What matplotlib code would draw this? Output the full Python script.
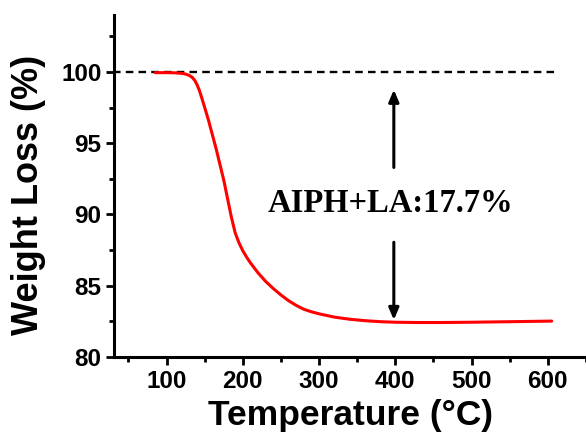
import matplotlib
matplotlib.use("Agg")
import matplotlib.pyplot as plt
from matplotlib.ticker import MultipleLocator

temperature = [85, 100, 110, 120, 125, 130, 134, 137, 140, 143, 146, 150, 155, 160, 165, 170,
               175, 180, 185, 190, 195, 200, 205, 210, 220, 230, 240, 250, 260, 270, 280, 290,
               300, 320, 340, 360, 380, 400, 430, 460, 500, 540, 580, 605]
weight = [99.95, 99.95, 99.94, 99.9, 99.85, 99.75, 99.6, 99.4, 99.1, 98.7, 98.2, 97.5, 96.6,
          95.6, 94.6, 93.5, 92.4, 91.1, 89.8, 88.7, 88.0, 87.45, 87.0, 86.6, 85.9, 85.3, 84.8,
          84.35, 83.95, 83.62, 83.35, 83.17, 83.03, 82.8, 82.65, 82.55, 82.48, 82.44, 82.42,
          82.42, 82.44, 82.47, 82.5, 82.52]
ref_level = 100.0
ref_x = [30, 610]
arrow_x = 398
arrow_up = (93.3, 98.75)
arrow_down = (88.05, 82.6)
label_text = "AIPH+LA:17.7%"
label_pos = (394, 90.77)

fig = plt.figure(figsize=(5.86, 4.33), dpi=100)
ax = fig.add_axes([0.1945, 0.1755, 0.8055, 0.79])

ax.plot(ref_x, [ref_level, ref_level], color="black", lw=1.7, ls=(0, (3.2, 2.2)))
ax.plot(temperature, weight, color="#ff0000", lw=2.2, solid_capstyle="round",
        solid_joinstyle="round")

for y0, y1 in (arrow_up, arrow_down):
    ax.annotate("", xy=(arrow_x, y1), xytext=(arrow_x, y0),
                arrowprops=dict(arrowstyle="-|>,head_length=0.7,head_width=0.3", color="black",
                                lw=2.2, shrinkA=0, shrinkB=0))
ax.text(label_pos[0], label_pos[1], label_text, family="Liberation Serif", weight="bold",
        fontsize=23.5, ha="center", va="center")

ax.set_xlim(31, 650)
ax.set_ylim(80, 104)
ax.xaxis.set_major_locator(MultipleLocator(100))
ax.xaxis.set_minor_locator(MultipleLocator(50))
ax.yaxis.set_major_locator(MultipleLocator(5))
ax.yaxis.set_minor_locator(MultipleLocator(2.5))

for s in ["top", "right"]:
    ax.spines[s].set_visible(False)
for s in ["left", "bottom"]:
    ax.spines[s].set_linewidth(2.2)

ax.tick_params(which="major", direction="out", length=6, width=2, labelsize=17.5, pad=3)
ax.tick_params(which="minor", direction="out", length=3.5, width=2)
for lab in ax.get_xticklabels() + ax.get_yticklabels():
    lab.set_family("Liberation Sans")
    lab.set_fontweight("bold")

ax.set_xlabel("Temperature (°C)", family="Liberation Sans", weight="bold", fontsize=25.5)
ax.set_ylabel("Weight Loss (%)", family="Liberation Sans", weight="bold", fontsize=26)
ax.xaxis.set_label_coords(0.501, -0.172)
ax.xaxis.label.set_va("center")
ax.yaxis.set_label_coords(-0.182, 0.475)
ax.yaxis.label.set_va("center")

fig.savefig("out.png", dpi=100)
